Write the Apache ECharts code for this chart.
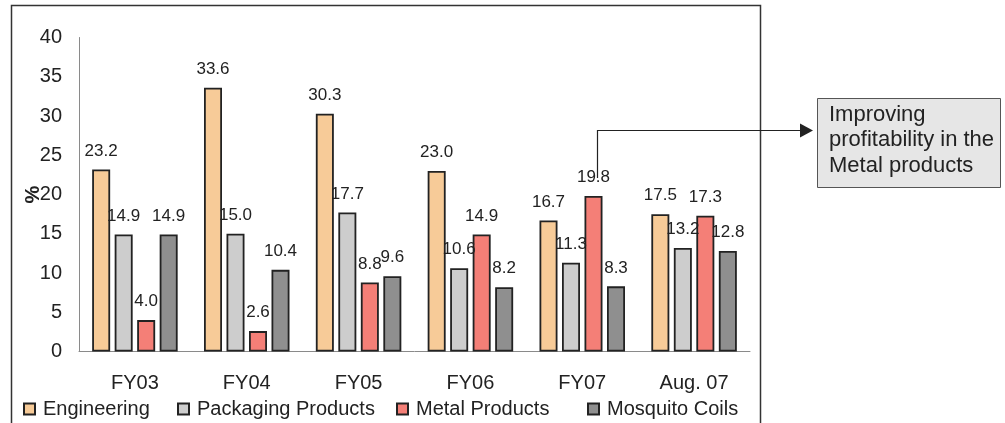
<!DOCTYPE html>
<html>
<head>
<meta charset="utf-8">
<script src="https://cdn.jsdelivr.net/npm/echarts@6/dist/echarts.min.js"></script>
<style>
  html, body { margin: 0; padding: 0; background: #fff; }
  #chart { width: 1005px; height: 423px; }
</style>
</head>
<body>
<div id="chart"></div>
<script>
// Segment margins (%) by fiscal period
const categories = ['FY03', 'FY04', 'FY05', 'FY06', 'FY07', 'Aug. 07'];
const seriesNames = ['Engineering', 'Packaging Products', 'Metal Products', 'Mosquito Coils'];
const engineering = [23.2, 33.6, 30.3, 23.0, 16.7, 17.5];
const packaging = [14.9, 15.0, 17.7, 10.6, 11.3, 13.2];
const metal = [4.0, 2.6, 8.8, 14.9, 19.8, 17.3];
const mosquito = [14.9, 10.4, 9.6, 8.2, 8.3, 12.8];
const yTicks = [0, 5, 10, 15, 20, 25, 30, 35, 40];
const noteLines = ['Improving', 'profitability in the', 'Metal products'];

const FONT = '"Liberation Sans", Arial, sans-serif';
const INK = '#222';
const colors = ['#F7CB98', '#CDCDCD', '#F47F77', '#8F8F8F'];
const values = [engineering, packaging, metal, mosquito];

const chart = echarts.init(document.getElementById('chart'), null, { renderer: 'canvas' });

const series = seriesNames.map((name, i) => ({
  name: name,
  type: 'bar',
  data: values[i],
  barWidth: 18,
  barGap: '25%',
  itemStyle: { color: colors[i], borderColor: '#222', borderWidth: 1.8 },
  label: {
    show: true,
    position: 'top',
    distance: 10,
    color: INK,
    fontFamily: FONT,
    fontSize: 17,
    formatter: p => p.value.toFixed(1)
  },
  emphasis: { disabled: true }
}));

// one legend block per series so each entry sits at its own spot
const legendLeft = [23, 177, 396, 587];
const legends = seriesNames.map((name, i) => ({
  data: [name],
  left: legendLeft[i],
  top: 399,
  padding: 0,
  icon: 'rect',
  itemWidth: 11,
  itemHeight: 11,
  selectedMode: false,
  textStyle: { color: INK, fontFamily: FONT, fontSize: 20, padding: [0, 0, 0, 3] }
}));

const noteText = noteLines.join('\n');

chart.setOption({
  animation: false,
  backgroundColor: '#fff',
  grid: { left: 79, right: 255, top: 37.5, bottom: 71.5, containLabel: false },
  legend: legends,
  xAxis: {
    type: 'category',
    data: categories,
    axisLine: { lineStyle: { color: '#8a8a8a', width: 1 } },
    axisTick: { show: false },
    axisLabel: { color: INK, fontFamily: FONT, fontSize: 20, margin: 22 }
  },
  yAxis: {
    type: 'value',
    min: yTicks[0],
    max: yTicks[yTicks.length - 1],
    interval: yTicks[1] - yTicks[0],
    name: '%',
    nameLocation: 'middle',
    nameRotate: 90,
    nameGap: 36,
    nameMoveOverlap: false,
    nameTextStyle: { color: INK, fontFamily: FONT, fontSize: 20, fontWeight: 'bold' },
    axisLine: { show: true, lineStyle: { color: '#8a8a8a', width: 1 } },
    axisTick: { show: false },
    splitLine: { show: false },
    axisLabel: { color: INK, fontFamily: FONT, fontSize: 20, margin: 17 }
  },
  series: series,
  graphic: [
    // chart frame
    {
      type: 'rect', silent: true,
      shape: { x: 11.5, y: 5.5, width: 749, height: 440 },
      style: { fill: null, stroke: '#333', lineWidth: 1.5 }
    },
    // callout leader
    {
      type: 'polyline', silent: true,
      shape: { points: [[597.5, 178], [597.5, 130.5], [801, 130.5]] },
      style: { fill: null, stroke: INK, lineWidth: 1.2 }
    },
    {
      type: 'polygon', silent: true,
      shape: { points: [[800, 123.5], [813, 130.5], [800, 137.5]] },
      style: { fill: INK }
    },
    // callout box
    {
      type: 'rect', silent: true,
      shape: { x: 817.5, y: 98.5, width: 183, height: 89 },
      style: { fill: '#E6E6E6', stroke: '#555', lineWidth: 1 }
    },
    {
      type: 'text', silent: true,
      x: 829, y: 102,
      style: {
        text: noteText,
        fill: INK,
        font: '22px ' + FONT,
        lineHeight: 25.5
      }
    }
  ]
});
</script>
</body>
</html>
